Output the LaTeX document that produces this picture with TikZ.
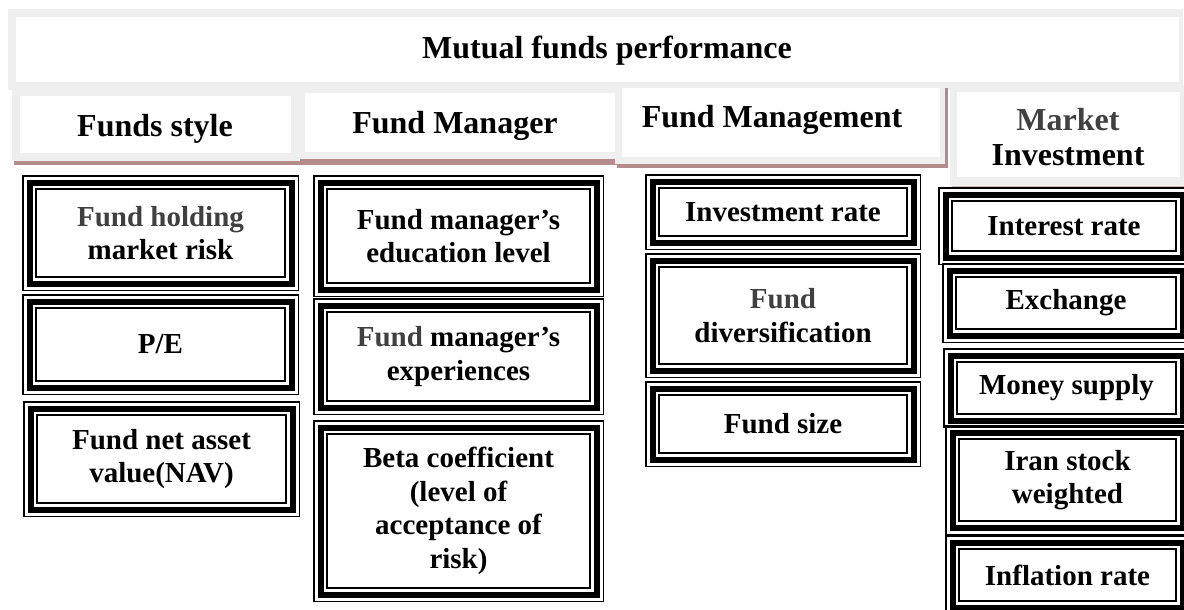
\documentclass[tikz,border=0pt]{standalone}
\usepackage{fontspec}
\setmainfont{Liberation Serif}
\definecolor{hdrgray}{HTML}{EFEFEF}
\definecolor{shadowbrown}{HTML}{B48C8C}
\definecolor{txtgray}{HTML}{404040}
\tikzset{
  tbox/.style={rectangle, draw=black, line width=1.5pt, inner sep=0pt, align=center,
    font=\fontsize{29}{33.5}\selectfont\bfseries,
    path picture={
      \draw[line width=6pt]
        ([shift={(6.75pt,-6.75pt)}]path picture bounding box.north west) rectangle
        ([shift={(-6.75pt,6.75pt)}]path picture bounding box.south east);
      \draw[line width=2pt]
        ([shift={(13pt,-13pt)}]path picture bounding box.north west) rectangle
        ([shift={(-13pt,13pt)}]path picture bounding box.south east);
    }},
  hdrtext/.style={inner sep=0pt, align=center, font=\fontsize{32}{35}\selectfont\bfseries},
  hdrframe/.style={fill=hdrgray},
  hdrinner/.style={fill=white},
  hdrshadow/.style={fill=shadowbrown}
}
\begin{document}
\begin{tikzpicture}[x=1pt,y=-1pt]
\clip (0,0) rectangle (1184,610);
\fill[white] (0,0) rectangle (1184,610);
% title
\fill[hdrframe] (8,9) rectangle (1183,90);
\fill[hdrinner] (16,17) rectangle (1179,82);
\node[hdrtext, anchor=base] (title) at (607,59) {Mutual funds performance};
% header shadows
\fill[hdrshadow] (14,158) rectangle (300,165);
\fill[hdrshadow] (300,156) rectangle (620,165);
\fill[hdrshadow] (617,160) rectangle (947,168);
\fill[hdrshadow] (944,88) rectangle (948,168);
\fill[fill=shadowbrown!60] (952,183) rectangle (1184,188);
% header frames
\fill[hdrframe] (12,88) rectangle (300,161);
\fill[hdrinner] (20,96) rectangle (291,153);
\fill[hdrframe] (293,82) rectangle (623,159);
\fill[hdrinner] (305,93) rectangle (617,152);
\fill[hdrframe] (615,82) rectangle (945,164);
\fill[hdrinner] (622,88) rectangle (940,157);
\fill[hdrframe] (950,85) rectangle (1184,186);
\fill[hdrinner] (957,92) rectangle (1180,177);
% header texts
\node[hdrtext, anchor=base] (h1) at (155,136) {Funds style};
\node[hdrtext, anchor=base] (h2) at (455,133) {Fund Manager};
\node[hdrtext, anchor=base] (h3) at (772,128) {Fund Management};
\node[hdrtext] (h4) at (1068,137) {\textcolor{txtgray}{Market}\\Investment};
% column 1
\node[tbox, minimum width=275.5, minimum height=114.5] (c1a) at (160.5,233) {\textcolor{txtgray}{Fund holding}\\market risk};
\node[tbox, minimum width=275.5, minimum height=99.5] (c1b) at (160.5,344.5) {P/E};
\node[tbox, minimum width=275.5, minimum height=114.5] (c1c) at (161.5,459) {Fund net asset\\value(NAV)};
% column 2
\node[tbox, minimum width=289.5, minimum height=120.5] (c2a) at (458.5,236) {Fund manager’s\\education level};
\node[tbox, minimum width=289.5, minimum height=115.5] (c2b) at (458.5,356.5) {\textcolor{txtgray}{Fund} manager’s\\experiences};
\node[tbox, minimum width=289.5, minimum height=180.5] (c2c) at (458.5,511) {Beta coefficient\\(level of\\acceptance of\\risk)};
% column 3
\node[tbox, minimum width=274.5, minimum height=74.5] (c3a) at (783,212) {Investment rate};
\node[tbox, minimum width=274.5, minimum height=123.5] (c3b) at (783,315.5) {\textcolor{txtgray}{Fund}\\diversification};
\node[tbox, minimum width=274.5, minimum height=84.5] (c3c) at (783,424) {Fund size};
% column 4
\node[tbox, minimum width=250.5, minimum height=76.5] (c4a) at (1064,226) {Interest rate};
\node[tbox, minimum width=246.5, minimum height=78.5] (c4b) at (1066,303) {Exchange};
\node[tbox, minimum width=245.5, minimum height=78.5] (c4c) at (1066.5,388) {Money supply};
\node[tbox, minimum width=243.5, minimum height=108.5] (c4d) at (1067.5,480) {Iran stock\\weighted};
\node[tbox, minimum width=243.5, minimum height=78.5] (c4e) at (1067.5,575) {Inflation rate};
\end{tikzpicture}
\end{document}
